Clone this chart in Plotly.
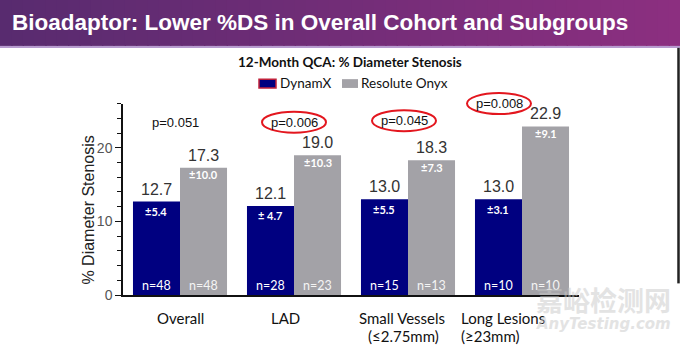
import plotly.graph_objects as go

# ---- data ----
categories = ["Overall", "LAD", "Small Vessels", "Long Lesions"]
label_line1 = ["Overall", "LAD", "Small Vessels", "Long Lesions"]
label_line2 = ["", "", "(≤2.75mm)", "(≥23mm)"]
series_names = ["DynamX", "Resolute Onyx"]
dynamx_mean = [12.7, 12.1, 13.0, 13.0]
onyx_mean = [17.3, 19.0, 18.3, 22.9]
dynamx_sd = ["±5.4", "± 4.7", "±5.5", "±3.1"]
onyx_sd = ["±10.0", "±10.3", "±7.3", "±9.1"]
dynamx_n = [48, 28, 15, 10]
onyx_n = [48, 23, 13, 10]
p_values = ["p=0.051", "p=0.006", "p=0.045", "p=0.008"]
p_circled = [False, True, True, True]
y_ticks = [0, 10, 20]

# ---- styles / layout positions ----
W, H = 680, 351
NAVY = "#000080"
GRAY = "#a3a2a7"
ARIAL = "Liberation Sans, Arial"
BARGAP = 0.175
OFF = (1 - BARGAP) / 4  # offset of each bar center from category center

p_xshift = [-5, 0, -4, -23]          # px from category centre
p_ypx = [125, 125, 123.5, 106]       # px from top of picture
l1_xshift = [0, -9, -6, -19]
l2_xshift = [0, 0, -5, -32]

def px(x):
    return x / W

def py(y):
    return 1 - y / H

fig = go.Figure()
fig.add_trace(go.Bar(x=categories, y=dynamx_mean, name=series_names[0],
                     marker=dict(color=NAVY, line=dict(width=0))))
fig.add_trace(go.Bar(x=categories, y=onyx_mean, name=series_names[1],
                     marker=dict(color=GRAY, line=dict(width=0))))

ann = []
shapes = []

# header band (gradient made of stripes)
c0 = (0x58, 0x2b, 0x6f)
c1 = (0x8c, 0x2f, 0x80)
N = 60
for k in range(N):
    t = k / (N - 1)
    c = tuple(int(round(c0[j] + (c1[j] - c0[j]) * t)) for j in range(3))
    shapes.append(dict(type="rect", xref="paper", yref="paper",
                       x0=k / N, x1=(k + 1) / N + 0.002, y0=py(47), y1=1,
                       fillcolor="rgb(%d,%d,%d)" % c, line=dict(width=0), layer="below"))
shapes.append(dict(type="rect", xref="paper", yref="paper", x0=0, x1=1,
                   y0=py(49), y1=py(47), fillcolor="#b79bcf", line=dict(width=0)))
# right border line
shapes.append(dict(type="line", xref="paper", yref="paper", x0=px(678.5), x1=px(678.5),
                   y0=py(49), y1=py(290), line=dict(color="#222", width=2.5)))

ann.append(dict(text="<b>Bioadaptor: Lower %DS in Overall Cohort and Subgroups</b>",
                xref="paper", yref="paper", x=px(10), y=py(23), xanchor="left", yanchor="middle",
                showarrow=False, font=dict(family=ARIAL, size=22.5, color="white")))

ann.append(dict(text="<b>12-Month QCA: % Diameter Stenosis</b>", xref="paper", yref="paper",
                x=px(350), y=py(63), xanchor="center", yanchor="middle", showarrow=False,
                font=dict(family="Lato", size=13.5, color="#111")))

# legend
shapes.append(dict(type="rect", xref="paper", yref="paper", x0=px(259), x1=px(276),
                   y0=py(90), y1=py(81), fillcolor=NAVY, line=dict(color="#c0203a", width=1.5)))
shapes.append(dict(type="rect", xref="paper", yref="paper", x0=px(342), x1=px(358),
                   y0=py(90), y1=py(81), fillcolor=GRAY, line=dict(width=0)))
ann.append(dict(text=series_names[0], xref="paper", yref="paper", x=px(278), y=py(85),
                xanchor="left", yanchor="middle", showarrow=False,
                font=dict(family="Lato", size=13.5, color="#111")))
ann.append(dict(text=series_names[1], xref="paper", yref="paper", x=px(359), y=py(85),
                xanchor="left", yanchor="middle", showarrow=False,
                font=dict(family="Lato", size=13.5, color="#111")))

# y axis title
ann.append(dict(text="% Diameter Stenosis", xref="paper", yref="paper", x=px(88.5), y=py(215),
                xanchor="center", yanchor="middle", textangle=-90, showarrow=False,
                font=dict(family=ARIAL, size=16, color="#222")))

for i in range(len(categories)):
    for means, sds, ns, sgn, sdshift, ncol in ((dynamx_mean, dynamx_sd, dynamx_n, -1, -10, "white"),
                                               (onyx_mean, onyx_sd, onyx_n, 1, -7, "#f4f4f4")):
        xc = i + sgn * OFF
        ann.append(dict(text="%.1f" % means[i], x=xc, y=means[i], xref="x", yref="y",
                        yshift=12.5, yanchor="middle", showarrow=False,
                        font=dict(family=ARIAL, size=16, color="#333")))
        ann.append(dict(text="<b>%s</b>" % sds[i], x=xc, y=means[i], xref="x", yref="y",
                        yshift=sdshift, yanchor="middle", showarrow=False,
                        font=dict(family="Lato", size=11, color="white")))
        ann.append(dict(text="n=%d" % ns[i], x=xc, y=0, xref="x", yref="y",
                        yshift=10, yanchor="middle", showarrow=False,
                        font=dict(family="Lato", size=12.5, color=ncol)))
    # p-values (paper y so that they may sit above the axis range)
    ann.append(dict(text=p_values[i], x=i, y=py(p_ypx[i]), xref="x", yref="paper",
                    xshift=p_xshift[i], yanchor="middle", showarrow=False,
                    font=dict(family=ARIAL, size=13, color="#111")))
    if p_circled[i]:
        shapes.append(dict(type="circle", xref="x", yref="paper", xsizemode="pixel",
                           ysizemode="pixel", xanchor=i, yanchor=py(p_ypx[i]),
                           x0=p_xshift[i] - 32, x1=p_xshift[i] + 32,
                           y0=-10.5, y1=10.5, line=dict(color="#e3161e", width=2)))
    # category labels
    ann.append(dict(text=label_line1[i], x=i, y=0, xref="x", yref="y", xshift=l1_xshift[i],
                    yshift=-23, yanchor="middle", showarrow=False,
                    font=dict(family="Lato", size=15, color="#111")))
    if label_line2[i]:
        ann.append(dict(text=label_line2[i], x=i, y=0, xref="x", yref="y", xshift=l2_xshift[i],
                        yshift=-41, yanchor="middle", showarrow=False,
                        font=dict(family="Lato", size=15, color="#111")))

# watermark
ann.append(dict(text="<b>嘉峪检测网</b>", xref="paper", yref="paper", x=px(603), y=py(306),
                xanchor="center", yanchor="middle", showarrow=False, opacity=0.5,
                font=dict(family="Noto Sans CJK SC", size=27, color="#c8c8c8")))
ann.append(dict(text="<b><i>AnyTesting.com</i></b>", xref="paper", yref="paper", x=px(603), y=py(332),
                xanchor="center", yanchor="middle", showarrow=False, opacity=0.5,
                font=dict(family="DejaVu Sans", size=15, color="#c8c8c8")))

fig.update_layout(
    width=W, height=H, margin=dict(l=0, r=0, t=0, b=0),
    paper_bgcolor="white", plot_bgcolor="white",
    barmode="group", bargap=BARGAP, bargroupgap=0,
    showlegend=False,
    xaxis=dict(domain=[px(123), px(579)], range=[-0.5, 3.5], type="category",
               showticklabels=False, ticks="", showline=True, linecolor="#111", linewidth=1.5,
               showgrid=False, zeroline=False, fixedrange=True),
    yaxis=dict(domain=[py(302), py(106)], range=[0, 26], tickvals=y_ticks, ticks="outside",
               ticklen=6, tickwidth=1.2, tickcolor="#111", showline=True, linecolor="#111",
               linewidth=1.5, showgrid=False, zeroline=False,
               tickfont=dict(family=ARIAL, size=14, color="#555"),
               minor=dict(dtick=2, ticks="outside", ticklen=4, tickcolor="#111", tickwidth=1),
               fixedrange=True),
    annotations=ann, shapes=shapes,
)

fig.write_html("out.html")
